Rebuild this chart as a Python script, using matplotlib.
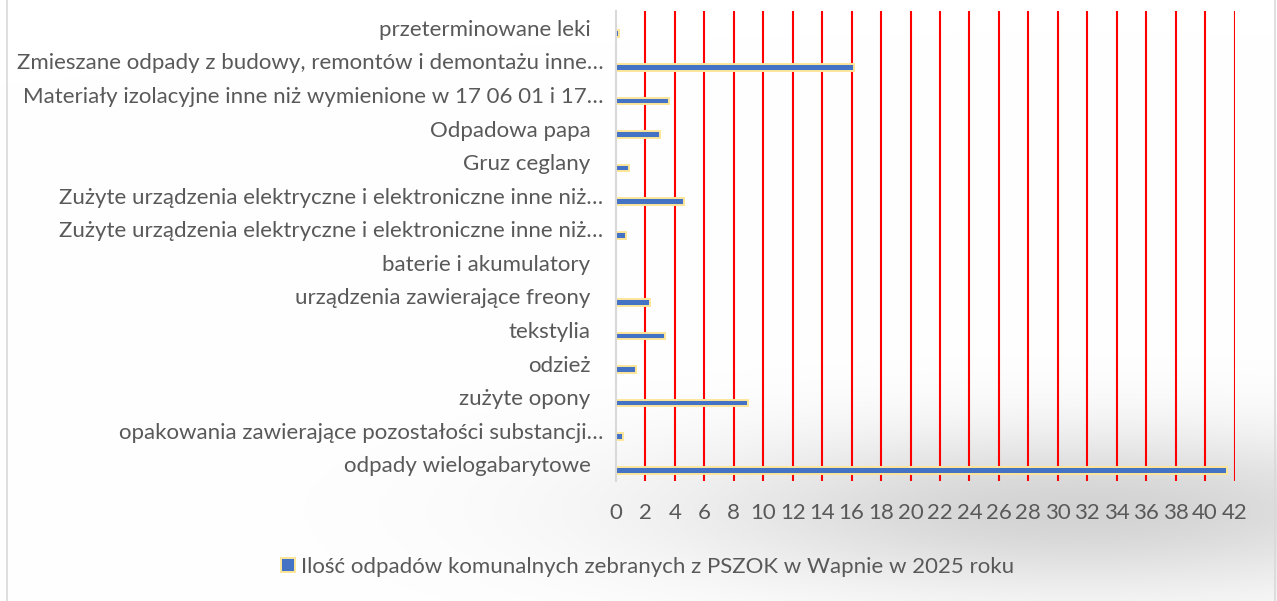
import matplotlib
matplotlib.use("Agg")
import matplotlib.pyplot as plt
import numpy as np
from matplotlib.transforms import ScaledTranslation
from matplotlib.lines import Line2D

categories = [
    "przeterminowane leki",
    "Zmieszane odpady z budowy, remontów i demontażu inne…",
    "Materiały izolacyjne inne niż wymienione w 17 06 01 i 17…",
    "Odpadowa papa",
    "Gruz ceglany",
    "Zużyte urządzenia elektryczne i elektroniczne inne niż…",
    "Zużyte urządzenia elektryczne i elektroniczne inne niż…",
    "baterie i akumulatory",
    "urządzenia zawierające freony",
    "tekstylia",
    "odzież",
    "zużyte opony",
    "opakowania zawierające pozostałości substancji…",
    "odpady wielogabarytowe",
]
values = [0.2, 16.15, 3.6, 3.0, 0.9, 4.65, 0.7, 0.02, 2.3, 3.3, 1.35, 8.95, 0.5, 41.5]
xticks = list(range(0, 43, 2))
series_name = "Ilość odpadów komunalnych zebranych z PSZOK w Wapnie w 2025 roku"

W, H = 1277, 601
fig = plt.figure(figsize=(W / 100, H / 100), dpi=100)
fig.patch.set_facecolor("white")

# light gray shading in lower right (background artifact)
bg = fig.add_axes([0, 0, 1, 1], zorder=-10)
bg.set_axis_off()
yy, xx = np.mgrid[0:H, 0:W]
blob = np.exp(-(((xx - 1080) / 400.0) ** 2) - (((yy - 510) / 80.0) ** 2))
shade = 1 - 0.17 * blob
bg.imshow(np.dstack([shade, shade, shade]), extent=[0, W, H, 0], aspect="auto", vmin=0, vmax=1)
bg.set_xlim(0, W)
bg.set_ylim(H, 0)
# outer border lines
bg.add_line(Line2D([6.5, 6.5], [0, H], color="#d9d9d9", lw=1.2))
bg.add_line(Line2D([1275, 1275], [0, H], color="#d9d9d9", lw=1.2))

left, right, top, bottom = 616, 1234.5, 11, 481
ax = fig.add_axes([left / W, 1 - bottom / H, (right - left) / W, (bottom - top) / H])
ax.patch.set_alpha(0)

n = len(categories)
pos = np.arange(n)
ax.barh(pos + 0.18, values, height=0.2, color="#4472c4", edgecolor="#ffe699",
        linewidth=1.4, zorder=3, label=series_name)

ax.set_xlim(0, 42)
ax.set_ylim(n - 0.5, -0.5)
ax.set_xticks(xticks)
ax.set_xticklabels([str(t) for t in xticks])
ax.set_yticks(pos)
ax.set_yticklabels(categories)

for x in xticks[1:]:
    ax.axvline(x, color="#ff0000", lw=1.5, zorder=1)

for s in ["top", "right", "bottom"]:
    ax.spines[s].set_visible(False)
ax.spines["left"].set_color("#d9d9d9")
ax.spines["left"].set_linewidth(1.5)
ax.spines["left"].set_zorder(4)

font = "Lato"
fs = 16
ax.tick_params(axis="both", length=0, labelcolor="#595959")
ax.tick_params(axis="y", pad=9)
ax.tick_params(axis="x", pad=16)
for lab in ax.get_yticklabels():
    lab.set_fontfamily(font)
    lab.set_fontsize(fs)
    if not lab.get_text().endswith("…"):
        lab.set_transform(lab.get_transform() + ScaledTranslation(-0.13, 0, fig.dpi_scale_trans))
for lab in ax.get_xticklabels():
    lab.set_fontfamily(font)
    lab.set_fontsize(fs)

leg = fig.legend(loc="center", bbox_to_anchor=(648 / W, 1 - 567 / H), frameon=False,
                 prop={"family": font, "size": fs}, handlelength=0.6, handleheight=0.6,
                 handletextpad=0.3, labelcolor="#595959")

fig.savefig("out.png", dpi=100, facecolor="white")
